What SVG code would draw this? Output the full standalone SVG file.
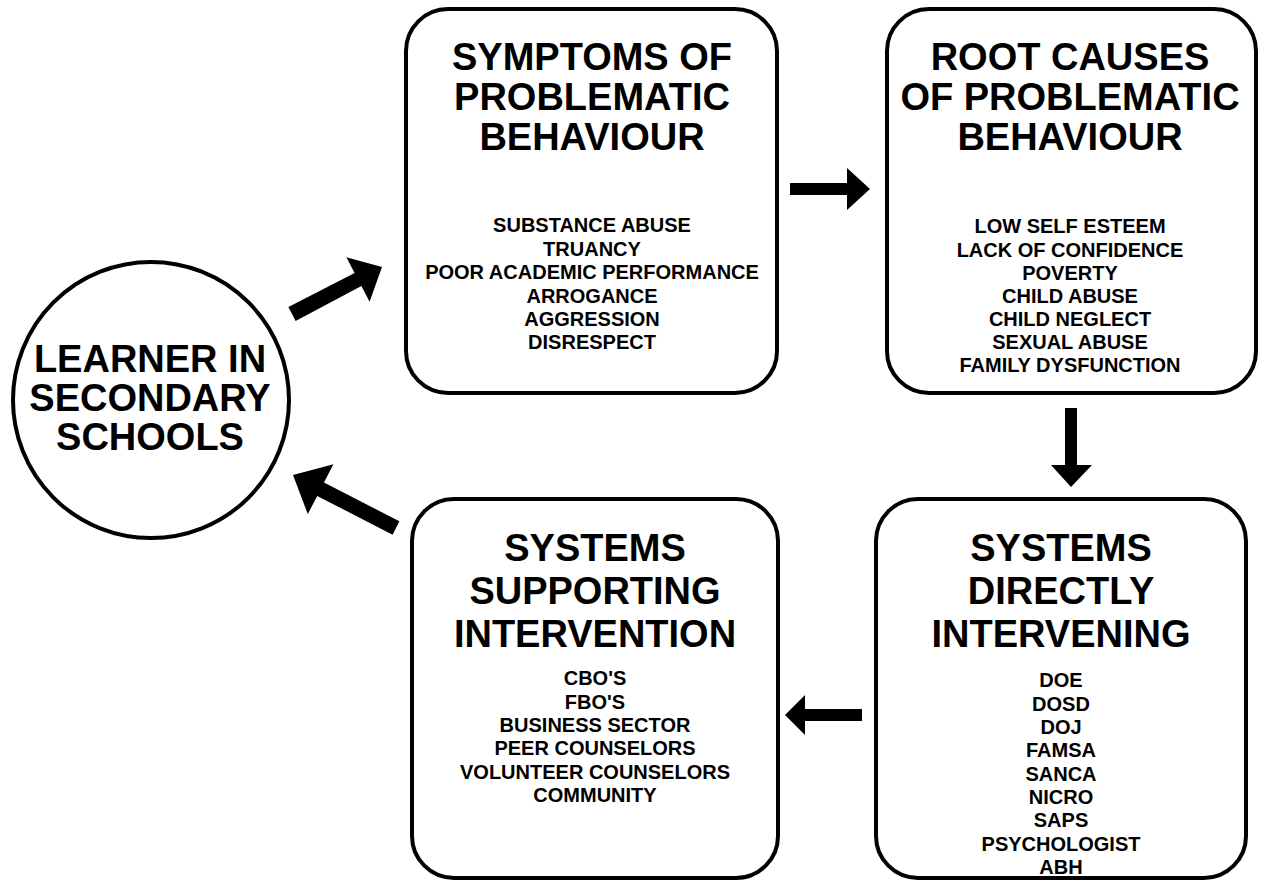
<svg xmlns="http://www.w3.org/2000/svg" width="1264" height="884" viewBox="0 0 1264 884">
  <style>
    .shape { fill: #ffffff; stroke: #000000; stroke-width: 4; }
    .title { font-family: "Liberation Sans", Arial, sans-serif; font-weight: bold; font-size: 38px; text-anchor: middle; fill: #000000; }
    .item { font-family: "Liberation Sans", Arial, sans-serif; font-weight: bold; font-size: 20px; text-anchor: middle; fill: #000000; }
    .arrow { fill: #000000; stroke: none; }
  </style>
  <rect x="0" y="0" width="1264" height="884" fill="#ffffff"/>

  <!-- central learner node -->
  <g id="learner">
    <circle class="shape" cx="151" cy="400" r="138"/>
    <text class="title" x="150" y="372">LEARNER IN</text>
    <text class="title" x="150" y="411">SECONDARY</text>
    <text class="title" x="150" y="450">SCHOOLS</text>
  </g>

  <g id="symptoms">
    <rect class="shape" x="406" y="9" width="371" height="384" rx="42" ry="42"/>
    <text class="title" x="592" y="70">SYMPTOMS OF</text>
    <text class="title" x="592" y="110">PROBLEMATIC</text>
    <text class="title" x="592" y="150">BEHAVIOUR</text>
    <text class="item" x="592" y="232">SUBSTANCE ABUSE</text>
    <text class="item" x="592" y="255.5">TRUANCY</text>
    <text class="item" x="592" y="279">POOR ACADEMIC PERFORMANCE</text>
    <text class="item" x="592" y="302.5">ARROGANCE</text>
    <text class="item" x="592" y="326">AGGRESSION</text>
    <text class="item" x="592" y="349">DISRESPECT</text>
  </g>

  <g id="root-causes">
    <rect class="shape" x="887" y="9" width="369" height="384" rx="42" ry="42"/>
    <text class="title" x="1070" y="70">ROOT CAUSES</text>
    <text class="title" x="1070" y="110">OF PROBLEMATIC</text>
    <text class="title" x="1070" y="150">BEHAVIOUR</text>
    <text class="item" x="1070" y="233">LOW SELF ESTEEM</text>
    <text class="item" x="1070" y="256.5">LACK OF CONFIDENCE</text>
    <text class="item" x="1070" y="279.5">POVERTY</text>
    <text class="item" x="1070" y="302.5">CHILD ABUSE</text>
    <text class="item" x="1070" y="326">CHILD NEGLECT</text>
    <text class="item" x="1070" y="349">SEXUAL ABUSE</text>
    <text class="item" x="1070" y="372">FAMILY DYSFUNCTION</text>
  </g>

  <g id="directly-intervening">
    <rect class="shape" x="876" y="499" width="370" height="379" rx="42" ry="42"/>
    <text class="title" x="1061" y="561">SYSTEMS</text>
    <text class="title" x="1061" y="604">DIRECTLY</text>
    <text class="title" x="1061" y="647">INTERVENING</text>
    <text class="item" x="1061" y="687">DOE</text>
    <text class="item" x="1061" y="710.5">DOSD</text>
    <text class="item" x="1061" y="734">DOJ</text>
    <text class="item" x="1061" y="757">FAMSA</text>
    <text class="item" x="1061" y="780.5">SANCA</text>
    <text class="item" x="1061" y="804">NICRO</text>
    <text class="item" x="1061" y="827">SAPS</text>
    <text class="item" x="1061" y="850.5">PSYCHOLOGIST</text>
    <text class="item" x="1061" y="874">ABH</text>
  </g>

  <g id="supporting-intervention">
    <rect class="shape" x="412" y="499" width="366" height="379" rx="42" ry="42"/>
    <text class="title" x="595" y="561">SYSTEMS</text>
    <text class="title" x="595" y="604">SUPPORTING</text>
    <text class="title" x="595" y="647">INTERVENTION</text>
    <text class="item" x="595" y="685">CBO'S</text>
    <text class="item" x="595" y="708.5">FBO'S</text>
    <text class="item" x="595" y="732">BUSINESS SECTOR</text>
    <text class="item" x="595" y="755">PEER COUNSELORS</text>
    <text class="item" x="595" y="778.5">VOLUNTEER COUNSELORS</text>
    <text class="item" x="595" y="802">COMMUNITY</text>
  </g>

  <!-- block arrows between the stages -->
  <g id="connectors">
    <polygon class="arrow" points="295.6,320.9 288.4,307.1 354.6,272.9 346.4,257.3 382,267 369.6,301.7 361.4,286.1"/>
    <polygon class="arrow" points="790,183 847,183 847,168 870,189 847,210 847,195 790,195"/>
    <polygon class="arrow" points="1065,408 1077,408 1077,465 1092,465 1071,487 1051,465 1065,465"/>
    <polygon class="arrow" points="862,709 805,709 805,695 785,715 805,735 805,721 862,721"/>
    <polygon class="arrow" points="399.4,521.3 324,482.5 333.4,464.3 293,475 307.8,514.1 317.2,495.9 392.6,534.7"/>
  </g>
</svg>
